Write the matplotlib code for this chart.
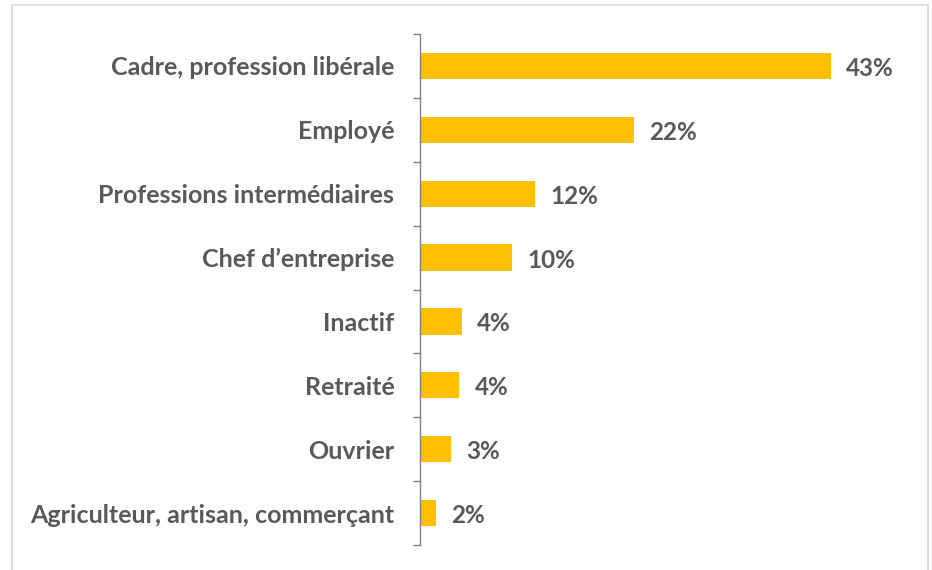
import matplotlib
matplotlib.use("Agg")
import matplotlib.pyplot as plt
from matplotlib.patches import Rectangle
import numpy as np

categories = ["Cadre, profession libérale", "Employé", "Professions intermédiaires",
              "Chef d\u2019entreprise", "Inactif", "Retraité", "Ouvrier",
              "Agriculteur, artisan, commerçant"]
values = [43.0, 22.4, 12.0, 9.6, 4.4, 4.1, 3.2, 1.7]

plt.rcParams['font.family'] = ['Lato', 'DejaVu Sans']
TEXT = '#595959'
BAR = '#FFC000'

W, H = 932, 570
fig = plt.figure(figsize=(W / 100, H / 100), dpi=100)
fig.patches.append(Rectangle((12 / W, -0.01), (928 - 12) / W, 1 - 5 / H + 0.01,
                             transform=fig.transFigure, fill=False,
                             edgecolor='#d9d9d9', linewidth=1.2))

left, right = 420 / W, 900 / W
bottom, top = 1 - 545 / H, 1 - 34 / H
ax = fig.add_axes([left, bottom, right - left, top - bottom])

n = len(categories)
y = np.arange(n)
ax.barh(y, values, height=0.41, color=BAR)
ax.set_ylim(n - 0.5, -0.5)
xmax = (right - left) * W / ((831 - 420) / 43.0)
ax.set_xlim(0, xmax)

for yi, v in zip(y, values):
    ax.text(v + 1.6, yi + 0.04, f"{v:.0f}%", va='center', ha='left', fontsize=17.5,
            fontweight='bold', color=TEXT)

ax.set_yticks(y)
ax.set_yticklabels(categories, fontsize=18, fontweight='bold', color=TEXT)
ax.tick_params(axis='y', which='major', length=0, pad=18.5)
ax.set_yticks(np.arange(n + 1) - 0.5, minor=True)
ax.tick_params(axis='y', which='minor', length=5, color='#808080', width=1)
ax.set_xticks([])
for s in ['top', 'right', 'bottom']:
    ax.spines[s].set_visible(False)
ax.spines['left'].set_color('#808080')
ax.spines['left'].set_linewidth(1)

fig.savefig('out.png', dpi=100)
